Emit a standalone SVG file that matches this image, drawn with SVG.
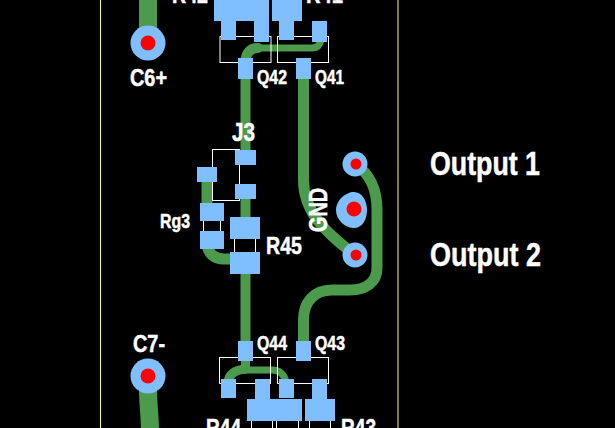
<svg xmlns="http://www.w3.org/2000/svg" width="615" height="428" viewBox="0 0 615 428">
<style>
.t{fill:none;stroke:#4c9a4c;stroke-linecap:round;stroke-linejoin:round}
.p{fill:#80bfff}
.r{fill:#ff0000}
.s{fill:none;stroke:#ffffff;stroke-width:1}
.x{fill:#ffffff;font-family:"Liberation Sans",Arial,sans-serif;font-weight:bold;stroke:#ffffff;stroke-width:.5}
.b{stroke:#ffff66;stroke-width:1;fill:none}
</style>
<rect width="615" height="428" fill="#000000"/>
<path class="b" d="M100.500,0V428M398,0V428"/>
<g id="connectors">
<path class="t" stroke-width="18" stroke-linecap="butt" d="M148,-2V30"/>
<path class="t" stroke-width="18" d="M148,390C148,405 150,415 150,432"/>
<path class="t" stroke-width="10" d="M245.500,70V160"/>
<path class="t" stroke-width="10" d="M245.500,190V225"/>
<path class="t" stroke-width="10" d="M245.500,265V350"/>
<path class="t" stroke-width="11" d="M207,175V210"/>
<path class="t" stroke-width="11" d="M207,245C208,253 214,259 224,259H235"/>
<path class="t" stroke-width="11" d="M303.500,70V180C303.500,212 325,232 355,255"/>
<path class="t" stroke-width="11" d="M355,164C370,174 377,188 377,210V268C377,282 366,290 350,290H332C314,290 303.500,302 303.500,320V350"/>
<path class="t" stroke-width="7" d="M260,48H312C317,48 320,45 321,40"/>
<path class="t" stroke-width="10" d="M245.500,62C245.500,53 250,48 258,48"/>
<path class="t" stroke-width="7" d="M245,370H272C279,370 284,374 286,382"/>
<path class="t" stroke-width="9" d="M228,382C229,374 235,370 245,369"/>
<path class="t" stroke-width="9" d="M245.500,355V369"/>
</g>
<g id="silk">
<rect class="s" x="220" y="36.500" width="51" height="26"/>
<rect class="s" x="277.500" y="36.500" width="51" height="26"/>
<rect class="s" x="212.500" y="149.500" width="27" height="51"/>
<path class="s" d="M203.500,215V235M220.500,215V235M234.500,235V256M255.500,235V256"/>
<rect class="s" x="219.500" y="357.500" width="51" height="26"/>
<rect class="s" x="277.500" y="357.500" width="51" height="26"/>
<path class="s" d="M251.500,418V428M272.500,418V428M276.500,418V428M298.500,418V428M309.500,418V428M330.500,418V428"/>
</g>
<g id="R42"><path class="p" d="M214,0H269V42H254V21H236V40H221V21H214Z"/><text class="x" x="172" y="3" font-size="24" textLength="36" lengthAdjust="spacingAndGlyphs">R42</text></g>
<g id="R41"><path class="p" d="M272,0H302V21H294V40H279V21H272Z"/><rect class="p" x="312" y="21" width="15" height="21"/><text class="x" x="306" y="3" font-size="24" textLength="37" lengthAdjust="spacingAndGlyphs">R41</text></g>
<g id="C6"><circle class="p" cx="148" cy="43" r="17.500"/><circle class="r" cx="148" cy="43" r="7.500"/><text class="x" x="130" y="86" font-size="24" textLength="37" lengthAdjust="spacingAndGlyphs">C6+</text></g>
<g id="Q42"><rect class="p" x="238" y="58" width="15" height="21"/><text class="x" x="257" y="84" font-size="20" textLength="30" lengthAdjust="spacingAndGlyphs">Q42</text></g>
<g id="Q41"><rect class="p" x="296" y="58" width="15" height="21"/><text class="x" x="315" y="84" font-size="20" textLength="29" lengthAdjust="spacingAndGlyphs">Q41</text></g>
<g id="J3"><rect class="p" x="235" y="150" width="21" height="15"/><rect class="p" x="235" y="184" width="21" height="15"/><rect class="p" x="197" y="167" width="20" height="15"/><text class="x" x="232" y="141" font-size="25" textLength="23" lengthAdjust="spacingAndGlyphs">J3</text></g>
<g id="Rg3"><rect class="p" x="200" y="203" width="24" height="18"/><rect class="p" x="200" y="231" width="24" height="18"/><text class="x" x="160" y="228" font-size="20" textLength="30" lengthAdjust="spacingAndGlyphs">Rg3</text></g>
<g id="R45"><rect class="p" x="230" y="217" width="30" height="22"/><rect class="p" x="230" y="252" width="30" height="22"/><text class="x" x="266" y="254" font-size="24.500" textLength="36" lengthAdjust="spacingAndGlyphs">R45</text></g>
<g id="Output1"><circle class="p" cx="355" cy="164" r="12.500"/><circle class="r" cx="356" cy="164" r="5.500"/><text class="x" x="430" y="175" font-size="34" textLength="110" lengthAdjust="spacingAndGlyphs">Output 1</text></g>
<g id="GND"><path class="p" d="M354,192C346,192 336,200 336,210C336,220 345,228 354,228C362,228 367,220 367,210C367,201 362,192 354,192Z"/><circle class="r" cx="354" cy="209" r="7.500"/><text class="x" transform="translate(327,232) rotate(-90)" font-size="25.500" textLength="44" lengthAdjust="spacingAndGlyphs">GND</text></g>
<g id="Output2"><circle class="p" cx="355" cy="255" r="12.500"/><circle class="r" cx="356" cy="255" r="5.500"/><text class="x" x="430" y="266" font-size="34" textLength="111" lengthAdjust="spacingAndGlyphs">Output 2</text></g>
<g id="Q44"><rect class="p" x="238" y="341" width="15" height="20"/><text class="x" x="257" y="350" font-size="20" textLength="30" lengthAdjust="spacingAndGlyphs">Q44</text></g>
<g id="Q43"><rect class="p" x="296" y="341" width="15" height="20"/><text class="x" x="315" y="350" font-size="20" textLength="30" lengthAdjust="spacingAndGlyphs">Q43</text></g>
<g id="C7"><circle class="p" cx="148" cy="376" r="17.500"/><circle class="r" cx="148" cy="376" r="7.500"/><text class="x" x="133" y="352" font-size="24" textLength="32" lengthAdjust="spacingAndGlyphs">C7-</text></g>
<g id="R44"><path class="p" d="M255,379H270V399H302V421H247V399H255Z"/><rect class="p" x="221" y="379" width="15" height="19"/><rect class="p" x="279" y="379" width="15" height="19"/><text class="x" x="206" y="436" font-size="24" textLength="35" lengthAdjust="spacingAndGlyphs">R44</text></g>
<g id="R43"><path class="p" d="M312,379H327V399H335V421H305V399H312Z"/><text class="x" x="341" y="436" font-size="24" textLength="35" lengthAdjust="spacingAndGlyphs">R43</text></g>
</svg>
